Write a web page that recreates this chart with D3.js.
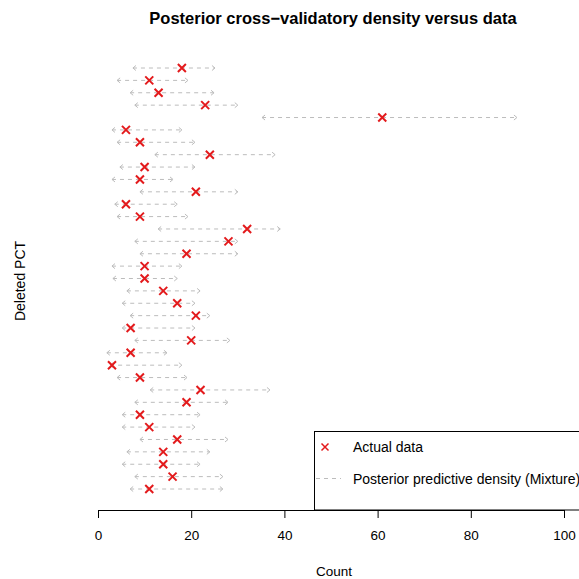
<!DOCTYPE html>
<html><head><meta charset="utf-8">
<script src="https://cdn.jsdelivr.net/npm/d3@7"></script>
<style>body{margin:0;background:#fff}svg{display:block}text{font-family:"Liberation Sans",Arial,sans-serif}</style>
</head><body>
<script>
// Rows (deleted PCT index, top to bottom)
const rows = d3.range(1, 36);
// Actual observed counts
const actual = [18,11,13,23,61,6,9,24,10,9,21,6,9,32,28,19,10,10,14,17,21,7,20,7,3,9,22,19,9,11,17,14,14,16,11];
// Posterior predictive interval lower / upper ends
const lower = [7.5,4.1,6.9,7.9,35.2,3.0,4.1,12.2,4.7,3.0,9.0,3.6,4.1,12.9,7.9,9.0,3.0,3.2,6.2,5.2,6.9,5.2,7.9,1.9,2.6,4.1,11.2,7.9,5.2,5.2,9.0,6.2,5.2,7.9,6.9];
const upper = [25.1,19.3,24.9,30.0,89.9,18.0,20.8,38.0,20.8,16.1,30.0,17.0,19.3,39.1,30.0,30.0,18.0,17.0,21.9,20.8,24.0,20.8,28.3,14.8,18.0,19.1,36.9,27.9,21.9,20.8,27.9,24.0,21.9,26.8,26.8];
const xTicks = [0,20,40,60,80,100];

const W = 579, H = 579;
const svg = d3.select("body").append("svg").attr("width", W).attr("height", H);

const x = d3.scaleLinear().domain([0,100]).range([98,564]);
const y = d3.scalePoint().domain(rows).range([68,489]);

const data = rows.map((r,i)=>({r, a: actual[i], lo: lower[i], hi: upper[i]}));

// intervals
const g = svg.append("g");
const grey = "#bcbcbc";
data.forEach(d=>{
  const yy = y(d.r), x0 = x(d.lo), x1 = x(d.hi);
  g.append("line").attr("x1",x0).attr("x2",x1).attr("y1",yy).attr("y2",yy)
    .attr("stroke",grey).attr("stroke-width",1).attr("stroke-dasharray","4,4");
  g.append("path").attr("d",`M${x0+3},${yy-2.5}L${x0},${yy}L${x0+3},${yy+2.5}`)
    .attr("fill","none").attr("stroke",grey).attr("stroke-width",1);
  g.append("path").attr("d",`M${x1-3},${yy-2.5}L${x1},${yy}L${x1-3},${yy+2.5}`)
    .attr("fill","none").attr("stroke",grey).attr("stroke-width",1);
});

// actual data crosses
const s = 4;
data.forEach(d=>{
  const cx = x(d.a), cy = y(d.r);
  g.append("path").attr("d",`M${cx-s},${cy-s}L${cx+s},${cy+s}M${cx-s},${cy+s}L${cx+s},${cy-s}`)
    .attr("stroke","#e31a1c").attr("stroke-width",2).attr("fill","none");
});

// x axis
const ax = svg.append("g").attr("transform","translate(0,510)")
  .call(d3.axisBottom(x).tickValues(xTicks).tickSize(8).tickPadding(12).tickFormat(d3.format("d")));
ax.select(".domain").attr("stroke","#000").attr("d",`M${x(0)},0.5H${x(100)}`);
ax.selectAll(".tick line").attr("stroke","#000");
ax.selectAll("text").attr("font-size",13.5).attr("fill","#000").style("font-family","Liberation Sans, Arial, sans-serif");

// legend
const lg = svg.append("g");
lg.append("rect").attr("x",314.5).attr("y",431.5).attr("width",300).attr("height",78.5)
  .attr("fill","#fff").attr("stroke","#000").attr("stroke-width",1);
lg.append("path").attr("d",`M${325-3.5},${447-3.5}L${325+3.5},${447+3.5}M${325-3.5},${447+3.5}L${325+3.5},${447-3.5}`)
  .attr("stroke","#e31a1c").attr("stroke-width",1.5);
lg.append("text").attr("x",353).attr("y",452).attr("font-size",14).text("Actual data");
lg.append("line").attr("x1",316).attr("x2",341).attr("y1",478.5).attr("y2",478.5)
  .attr("stroke",grey).attr("stroke-dasharray","4,4");
lg.append("text").attr("x",353).attr("y",483.5).attr("font-size",14).text("Posterior predictive density (Mixture)");

// titles
svg.append("text").attr("x",333).attr("y",24).attr("text-anchor","middle")
  .attr("font-size",16.5).attr("font-weight","bold").text("Posterior cross\u2212validatory density versus data");
svg.append("text").attr("x",334).attr("y",576).attr("text-anchor","middle")
  .attr("font-size",13.5).text("Count");
svg.append("text").attr("transform","translate(25,281) rotate(-90)").attr("text-anchor","middle")
  .attr("font-size",14).text("Deleted PCT");
</script>
</body></html>
